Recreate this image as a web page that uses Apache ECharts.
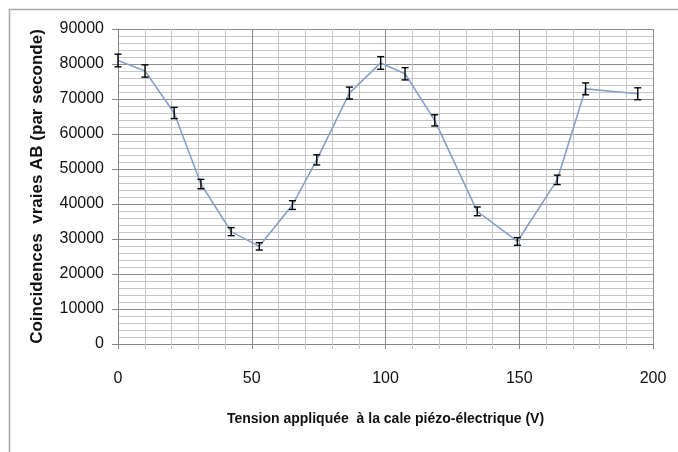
<!DOCTYPE html>
<html>
<head>
<meta charset="utf-8">
<script src="https://cdn.jsdelivr.net/npm/echarts@6/dist/echarts.min.js"></script>
<style>html,body{margin:0;padding:0;background:#fff;}#c{width:678px;height:452px;}</style>
</head>
<body>
<div id="c"></div>
<script>
// Tension appliquée (V)
var voltages = [0, 10.1, 21, 31, 42.3, 52.8, 65.2, 74.3, 86.5, 98.2, 107.3, 118.4, 134.3, 149.3, 164.2, 174.8, 194.3];
// Coincidences vraies AB (par seconde)
var counts = [81000, 78000, 66000, 45700, 32100, 27900, 39700, 52600, 71700, 80300, 77200, 63900, 37900, 29300, 46900, 72900, 71500];
// error bar half-widths
var errors = [1800, 1750, 1600, 1350, 1150, 1050, 1250, 1450, 1700, 1800, 1750, 1600, 1250, 1100, 1350, 1700, 1700];
var xTitle = 'Tension appliquée  à la cale piézo-électrique (V)';
var yTitle = 'Coincidences  vraies AB (par seconde)';

var lineData = voltages.map(function (v, i) { return [v, counts[i]]; });
var errData = voltages.map(function (v, i) { return [v, counts[i] - errors[i], counts[i] + errors[i]]; });

var chart = echarts.init(document.getElementById('c'), null, { renderer: 'canvas' });
chart.setOption({
  backgroundColor: '#ffffff',
  animation: false,
  graphic: [{
    type: 'rect', left: 7, top: 7, silent: true,
    shape: { x: 0, y: 0, width: 700, height: 500 },
    style: { fill: 'none', stroke: '#a6a6a6', lineWidth: 1.5 }
  }],
  grid: { left: 118, right: 25, top: 29, bottom: 108 },
  xAxis: {
    type: 'value', min: 0, max: 200, interval: 50,
    name: xTitle, nameLocation: 'middle', nameGap: 68,
    nameTextStyle: { fontFamily: 'Liberation Sans, sans-serif', fontWeight: 'bold', fontSize: 14, color: '#111' },
    axisLine: { lineStyle: { color: '#868686', width: 1 } },
    axisTick: { show: true, inside: false, length: 5, lineStyle: { color: '#868686' } },
    minorTick: { show: true, splitNumber: 5, length: 5, lineStyle: { color: '#c8c8c8' } },
    axisLabel: { margin: 27, fontFamily: 'Liberation Sans, sans-serif', fontSize: 16, color: '#111' },
    splitLine: { show: true, lineStyle: { color: '#8c8c8c', width: 1 } },
    minorSplitLine: { show: true, lineStyle: { color: '#c6c6c6', width: 1 } }
  },
  yAxis: {
    type: 'value', min: 0, max: 90000, interval: 10000,
    name: yTitle, nameLocation: 'middle', nameGap: 72, nameRotate: 90,
    nameTextStyle: { fontFamily: 'Liberation Sans, sans-serif', fontWeight: 'bold', fontSize: 17, color: '#111' },
    axisLine: { show: true, lineStyle: { color: '#868686', width: 1 } },
    axisTick: { show: true, inside: false, length: 6, lineStyle: { color: '#868686' } },
    minorTick: { show: false, splitNumber: 5 },
    axisLabel: { margin: 14, fontFamily: 'Liberation Sans, sans-serif', fontSize: 16, color: '#111',
      formatter: function (v) { return String(v); } },
    splitLine: { show: true, lineStyle: { color: '#8c8c8c', width: 1 } },
    minorSplitLine: { show: true, lineStyle: { color: '#c6c6c6', width: 1 } }
  },
  series: [{
    type: 'line', data: lineData, showSymbol: false, smooth: false,
    lineStyle: { color: '#86a2cc', width: 1.6 }, z: 3
  }, {
    type: 'custom', data: errData, z: 4,
    encode: { x: 0, y: [1, 2] },
    renderItem: function (params, api) {
      var x = api.value(0);
      var lo = api.coord([x, api.value(1)]);
      var hi = api.coord([x, api.value(2)]);
      var w = 3.5;
      var st = { stroke: '#000', lineWidth: 1.4, fill: null };
      return {
        type: 'group',
        children: [
          { type: 'line', shape: { x1: lo[0], y1: lo[1], x2: hi[0], y2: hi[1] }, style: st },
          { type: 'line', shape: { x1: lo[0] - w, y1: lo[1], x2: lo[0] + w, y2: lo[1] }, style: st },
          { type: 'line', shape: { x1: hi[0] - w, y1: hi[1], x2: hi[0] + w, y2: hi[1] }, style: st }
        ]
      };
    }
  }]
});
</script>
</body>
</html>
